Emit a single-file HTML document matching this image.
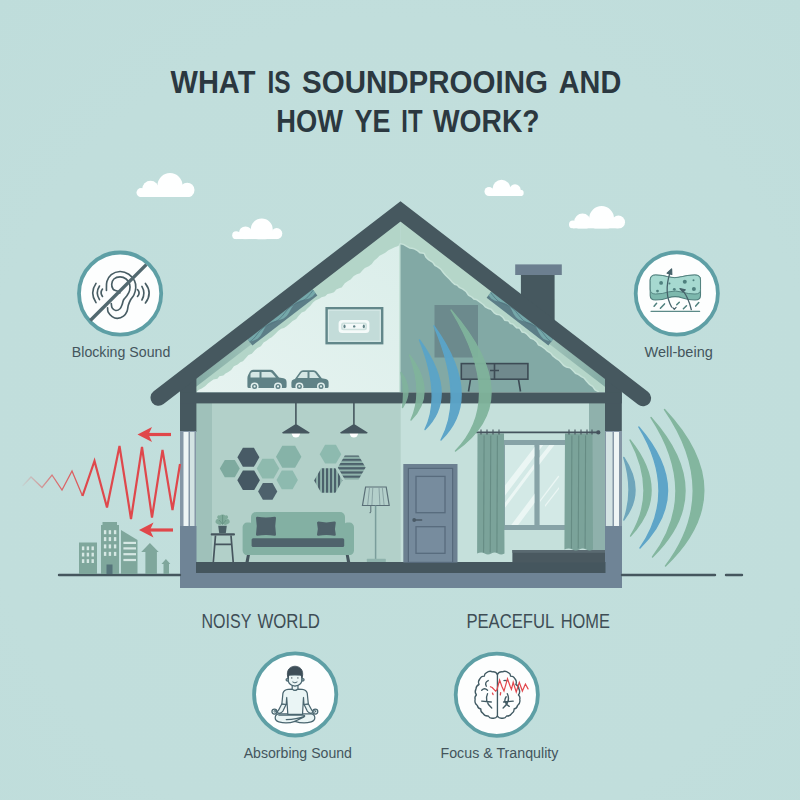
<!DOCTYPE html>
<html lang="en"><head><meta charset="utf-8"><title>What is soundproofing and how does it work?</title>
<style>
html,body{margin:0;padding:0;background:#c0dedb;}
body{width:800px;height:800px;overflow:hidden;font-family:"Liberation Sans",sans-serif;}
svg{display:block}
text{font-family:"Liberation Sans",sans-serif}
</style></head><body>
<svg width="800" height="800" viewBox="0 0 800 800">
<defs>
<radialGradient id="bg" cx="50%" cy="55%" r="75%">
<stop offset="0" stop-color="#c2dfdc"/><stop offset="0.7" stop-color="#c1dedc"/><stop offset="1" stop-color="#bfdddb"/>
</radialGradient>
<linearGradient id="atticL" x1="0" y1="1" x2="1" y2="0">
<stop offset="0" stop-color="#e6f3f0"/><stop offset="1" stop-color="#dbeeea"/>
</linearGradient>
<linearGradient id="zigfade" x1="22" y1="0" x2="100" y2="0" gradientUnits="userSpaceOnUse">
<stop offset="0" stop-color="#e0474a" stop-opacity="0.05"/><stop offset="0.45" stop-color="#e0474a" stop-opacity="0.75"/><stop offset="1" stop-color="#e0474a"/>
</linearGradient>
<clipPath id="houseclip"><path d="M180,588 L180,392 L400.5,221.5 L622,392 L622,588Z"/></clipPath>
</defs>
<rect width="800" height="800" fill="url(#bg)"/>

<g fill="#2b3840" font-weight="700">
<text y="92.60" font-size="31.59" xml:space="preserve"><tspan x="170.50" textLength="84.90" lengthAdjust="spacingAndGlyphs">WHAT</tspan> <tspan x="267.40" textLength="23.10" lengthAdjust="spacingAndGlyphs">IS</tspan> <tspan x="302.00" textLength="245.97" lengthAdjust="spacingAndGlyphs">SOUNDPROOING</tspan> <tspan x="558.75" textLength="62.55" lengthAdjust="spacingAndGlyphs">AND</tspan></text>
<text y="131.60" font-size="31.59" xml:space="preserve"><tspan x="276.25" textLength="66.72" lengthAdjust="spacingAndGlyphs">HOW</tspan> <tspan x="354.50" textLength="35.97" lengthAdjust="spacingAndGlyphs">YE</tspan> <tspan x="401.25" textLength="21.22" lengthAdjust="spacingAndGlyphs">IT</tspan> <tspan x="433.00" textLength="106.55" lengthAdjust="spacingAndGlyphs">WORK?</tspan></text>
</g>
<clipPath id="cl141"><rect x="121" y="155.5" width="86.19999999999999" height="41.599999999999994"/></clipPath><g fill="#feffff" clip-path="url(#cl141)"><circle cx="141" cy="192.6" r="4.5"/><circle cx="150.5" cy="189" r="8.3"/><circle cx="170" cy="185.5" r="12.5"/><circle cx="187.2" cy="190" r="7.3"/><rect x="141" y="189" width="46.19999999999999" height="8.099999999999994"/></g>
<clipPath id="cl236"><rect x="216.2" y="199.5" width="80.5" height="39.69999999999999"/></clipPath><g fill="#feffff" clip-path="url(#cl236)"><circle cx="236.2" cy="235.2" r="4"/><circle cx="245.5" cy="233" r="6.6"/><circle cx="261.75" cy="229.5" r="11"/><circle cx="276.7" cy="233.6" r="5.6"/><rect x="236.2" y="233" width="40.5" height="6.199999999999989"/></g>
<clipPath id="cl489"><rect x="469" y="158.8" width="71.5" height="37.19999999999999"/></clipPath><g fill="#feffff" clip-path="url(#cl489)"><circle cx="489" cy="191.5" r="4.5"/><circle cx="501.5" cy="188.8" r="9"/><circle cx="515" cy="190" r="5.7"/><circle cx="520.5" cy="193" r="3.2"/><rect x="489" y="190" width="31.5" height="6"/></g>
<clipPath id="cl573"><rect x="553" y="188.5" width="85.39999999999998" height="40.099999999999994"/></clipPath><g fill="#feffff" clip-path="url(#cl573)"><circle cx="573" cy="224.6" r="4"/><circle cx="582.5" cy="221.8" r="8.3"/><circle cx="601.6" cy="218.5" r="12.4"/><circle cx="618.4" cy="222.2" r="6.6"/><rect x="573" y="221.8" width="45.39999999999998" height="6.799999999999983"/></g>
<g id="house">
<path d="M180.200,392 L400.5,220 L400.5,392Z" fill="#b3d5c8"/>
<path d="M400.5,220 L621.600,392 L400.5,392Z" fill="#b5d6c9"/>
<path d="M196.5,392.0 L198.9,389.7 L201.7,388.4 L205.1,386.2 L208.2,383.2 L211.0,381.3 L213.4,379.6 L217.4,378.7 L219.4,376.3 L223.4,375.6 L225.5,373.5 L227.9,372.3 L231.2,370.0 L233.9,366.3 L237.7,364.6 L240.3,362.3 L242.9,361.2 L245.4,358.5 L248.5,354.9 L251.8,353.7 L254.9,350.3 L257.4,348.1 L260.9,346.2 L263.6,342.5 L267.0,340.5 L269.1,338.8 L271.7,337.2 L275.5,333.8 L278.1,331.1 L281.2,328.7 L284.0,328.1 L286.6,326.2 L289.9,323.6 L292.6,320.9 L296.2,319.0 L298.7,315.8 L301.7,312.4 L305.0,311.2 L306.9,309.1 L310.4,305.7 L313.0,302.5 L315.4,300.6 L319.3,298.7 L321.5,297.3 L325.2,296.2 L327.6,293.9 L331.1,293.3 L334.0,292.3 L336.3,289.5 L339.8,288.0 L341.7,287.4 L344.8,283.3 L348.0,281.1 L350.6,279.5 L353.8,275.9 L356.9,274.3 L360.0,273.2 L362.8,269.9 L364.9,268.0 L368.8,266.3 L371.8,264.1 L374.1,260.8 L377.4,258.0 L379.5,255.7 L382.5,254.2 L385.3,252.7 L388.4,250.3 L391.6,248.8 L395.2,246.9 L397.1,246.5 L400.5,244.5 L400.5,392 L196.5,392Z" fill="url(#atticL)"/>
<path d="M400.5,244.5 L403.1,245.1 L405.6,246.5 L409.6,248.8 L411.7,249.1 L414.0,249.5 L417.1,251.2 L419.7,253.4 L423.6,253.9 L425.3,257.6 L428.0,260.2 L432.1,262.7 L434.5,266.0 L436.9,267.3 L440.3,269.8 L443.1,273.4 L445.1,275.8 L449.0,279.6 L451.6,282.5 L454.3,284.9 L456.8,285.7 L458.9,288.1 L462.1,289.5 L465.5,292.1 L468.0,295.7 L471.5,297.8 L473.5,299.8 L476.1,300.2 L478.9,302.2 L482.7,305.1 L484.9,307.6 L488.2,309.2 L490.8,309.9 L493.8,313.5 L496.2,315.0 L499.4,315.6 L502.2,317.7 L504.5,321.0 L508.1,321.5 L509.8,324.1 L512.6,324.8 L516.3,328.5 L519.2,328.8 L521.7,332.7 L524.4,333.3 L526.5,334.8 L530.2,338.7 L533.4,340.1 L536.1,342.3 L538.0,345.6 L540.9,346.7 L544.1,349.1 L546.7,351.6 L550.2,353.7 L552.4,356.5 L555.9,359.2 L558.7,361.1 L561.0,363.5 L563.1,365.9 L566.1,367.7 L569.8,368.6 L572.1,370.8 L575.1,373.9 L577.8,374.9 L581.0,377.3 L583.5,378.5 L585.9,381.4 L589.1,385.1 L592.2,387.1 L594.6,390.5 L597.5,392.0 L597.5,392 L400.5,392Z" fill="#c6e2d8" stroke="#c6e2d8" stroke-width="3" stroke-linejoin="round"/>
<path d="M400.5,244.5 L403.1,245.1 L405.6,246.5 L409.6,248.8 L411.7,249.1 L414.0,249.5 L417.1,251.2 L419.7,253.4 L423.6,253.9 L425.3,257.6 L428.0,260.2 L432.1,262.7 L434.5,266.0 L436.9,267.3 L440.3,269.8 L443.1,273.4 L445.1,275.8 L449.0,279.6 L451.6,282.5 L454.3,284.9 L456.8,285.7 L458.9,288.1 L462.1,289.5 L465.5,292.1 L468.0,295.7 L471.5,297.8 L473.5,299.8 L476.1,300.2 L478.9,302.2 L482.7,305.1 L484.9,307.6 L488.2,309.2 L490.8,309.9 L493.8,313.5 L496.2,315.0 L499.4,315.6 L502.2,317.7 L504.5,321.0 L508.1,321.5 L509.8,324.1 L512.6,324.8 L516.3,328.5 L519.2,328.8 L521.7,332.7 L524.4,333.3 L526.5,334.8 L530.2,338.7 L533.4,340.1 L536.1,342.3 L538.0,345.6 L540.9,346.7 L544.1,349.1 L546.7,351.6 L550.2,353.7 L552.4,356.5 L555.9,359.2 L558.7,361.1 L561.0,363.5 L563.1,365.9 L566.1,367.7 L569.8,368.6 L572.1,370.8 L575.1,373.9 L577.8,374.9 L581.0,377.3 L583.5,378.5 L585.9,381.4 L589.1,385.1 L592.2,387.1 L594.6,390.5 L597.5,392.0 L597.5,392 L400.5,392Z" fill="#82a9a5"/>
<defs><linearGradient id="evL" gradientUnits="userSpaceOnUse" x1="200" y1="0" x2="300" y2="0"><stop offset="0" stop-color="#86ada6" stop-opacity="1"/><stop offset="1" stop-color="#86ada6" stop-opacity="0"/></linearGradient><linearGradient id="evR" gradientUnits="userSpaceOnUse" x1="601" y1="0" x2="501" y2="0"><stop offset="0" stop-color="#86ada6" stop-opacity="1"/><stop offset="1" stop-color="#86ada6" stop-opacity="0"/></linearGradient></defs>
<polygon points="180.5,390.8 300.5,298.4 300.5,306.4 180.5,398.8" fill="url(#evL)"/>
<polygon points="620.5,390.8 500.5,298.4 500.5,306.4 620.5,398.8" fill="url(#evR)"/>
<polygon points="312.5,289.2 247.6,339.2 252.4,345.5 317.4,295.5" fill="#5c7e87"/><polygon points="312.5,289.2 247.6,339.2 249.5,341.7 253.8,340.6 257.6,338.8 260.5,335.8 262.7,332.0 264.8,328.0 267.4,324.7 270.9,322.4 275.0,321.1 279.4,320.1 283.5,318.6 286.7,316.1 289.1,312.6 291.2,308.5 293.6,304.9 296.7,302.2 300.6,300.6 305.0,299.6 309.2,298.4 312.8,296.2 315.5,293.0" fill="#79afb0" opacity="0.85"/><polyline points="249.6,341.9 252.9,339.4 255.7,336.3 258.2,332.9 261.0,329.7 264.1,327.1 267.8,325.1 271.7,323.5 275.5,321.7 278.9,319.4 281.9,316.5 284.5,313.2 287.1,309.9 290.1,307.1 293.5,304.8 297.4,303.1 301.3,301.5 304.9,299.4 308.0,296.8 310.7,293.5 313.3,290.2" fill="none" stroke="#4f7580" stroke-width="0.900" opacity="0.8"/>
<polygon points="491.5,291.5 553.3,339.1 548.4,345.4 486.6,297.8" fill="#5c7e87"/><polygon points="491.5,291.5 553.3,339.1 551.3,341.6 547.2,340.6 543.6,338.9 540.8,336.0 538.7,332.4 536.8,328.5 534.3,325.3 531.1,323.2 527.1,322.0 522.8,321.1 518.9,319.7 515.9,317.3 513.6,313.9 511.7,310.0 509.5,306.5 506.5,303.9 502.8,302.4 498.5,301.5 494.5,300.4 491.1,298.4 488.5,295.3" fill="#79afb0" opacity="0.85"/><polyline points="551.2,341.7 548.1,339.4 545.5,336.4 543.1,333.1 540.5,330.1 537.5,327.6 534.0,325.7 530.3,324.2 526.6,322.5 523.3,320.4 520.6,317.6 518.1,314.4 515.6,311.3 512.8,308.5 509.5,306.4 505.8,304.8 502.1,303.3 498.6,301.4 495.7,298.8 493.1,295.7 490.7,292.5" fill="none" stroke="#4f7580" stroke-width="0.900" opacity="0.8"/>
<rect x="326.6" y="308.2" width="55.6" height="35" fill="#c3dcd9" stroke="#62878a" stroke-width="2.400"/>
<rect x="328.6" y="310.2" width="51.6" height="31" fill="none" stroke="#d9eae8" stroke-width="1"/>
<rect x="338.6" y="320" width="30.8" height="13" rx="3.500" fill="#f4faf9"/>
<rect x="341" y="322.500" width="26" height="7.800" rx="2.500" fill="#cfe2df"/>
<rect x="342.500" y="324" width="23" height="4.800" rx="2.400" fill="#f4faf9"/>
<ellipse cx="344.500" cy="326.400" rx="1.100" ry="1.800" fill="#5f8286"/><ellipse cx="363.800" cy="326.400" rx="1.100" ry="1.800" fill="#5f8286"/><circle cx="354.200" cy="326.400" r="1.200" fill="#5f8286"/>
<path d="M247.400,386.500 V378 q0,-2 1,-3.500 l1.600,-3 q1,-1.700 3,-1.700 h17.500 q2,0 3.200,1.400 l5.300,6.300 l4.500,0.800 q3.100,0.700 3.100,4 v4.200 q0,1.500 -1.500,1.500 h-36.200 q-1.500,0 -1.500,-1.500Z" fill="#5f8286"/>
<path d="M250.500,377.500 v-3 q0,-2.500 2.500,-2.500 h6.500 v5.500Z M261.500,372 h8.500 q1.200,0 2,0.900 l3.900,4.600 h-14.400Z" fill="#d5e7e5"/>
<circle cx="254.6" cy="386.4" r="4" fill="#e3f0ee"/><circle cx="254.6" cy="386.4" r="2.500" fill="#5f8286"/><circle cx="254.6" cy="386.4" r="1.100" fill="#e3f0ee"/><circle cx="278" cy="386.4" r="4" fill="#e3f0ee"/><circle cx="278" cy="386.4" r="2.500" fill="#5f8286"/><circle cx="278" cy="386.4" r="1.100" fill="#e3f0ee"/>
<path d="M291.400,386.500 v-4 q0,-2.500 2,-3 l1.500,-0.500 l5,-7 q1.200,-1.700 3.200,-1.700 h10.500 q2,0 3.200,1.500 l5,6.500 l4,0.800 q2.800,0.600 2.800,3.500 v4 q0,1.500 -1.500,1.500 h-34.200 q-1.500,0 -1.500,-1.600Z" fill="#5f8286"/>
<path d="M297.500,378 l3.800,-5.200 q0.600,-0.800 1.600,-0.800 h4.600 v6Z M309.500,372 h4 q1,0 1.600,0.800 l4,5.200 h-9.600Z" fill="#d5e7e5"/>
<circle cx="299.4" cy="386.4" r="4" fill="#e3f0ee"/><circle cx="299.4" cy="386.4" r="2.500" fill="#5f8286"/><circle cx="299.4" cy="386.4" r="1.100" fill="#e3f0ee"/><circle cx="321" cy="386.4" r="4" fill="#e3f0ee"/><circle cx="321" cy="386.4" r="2.500" fill="#5f8286"/><circle cx="321" cy="386.4" r="1.100" fill="#e3f0ee"/>
<rect x="434.5" y="305" width="43.5" height="52.5" fill="#6c8a8d"/>
<rect x="461.300" y="363.600" width="66.600" height="15.600" fill="#70898d" stroke="#3d4b55" stroke-width="1.600"/>
<path d="M494.500,363.600 v15.600 M490,370.500 h9 M470.500,379.500 l-2,12 M518.500,379.500 l2,12" stroke="#3d4b55" stroke-width="1.600" fill="none"/>
<rect x="196" y="402" width="205" height="161" fill="#b2d0c9"/>
<rect x="196" y="402" width="16" height="161" fill="#9fc1ba"/>
<rect x="400.700" y="402" width="205" height="161" fill="#c5e0db"/>
<rect x="589" y="402" width="16" height="161" fill="#8fb1ac"/>
<rect x="180" y="378" width="16.400" height="53.800" fill="#46585f"/>
<rect x="180" y="431" width="16" height="96" fill="#8597a6"/>
<rect x="183.5" y="432" width="5" height="94" fill="#eef5f5"/><rect x="190" y="432" width="4.5" height="94" fill="#d3e3e3"/>
<rect x="180" y="526" width="16.5" height="62" fill="#6f8496"/>
<rect x="605" y="378" width="16.800" height="53.800" fill="#46585f"/>
<rect x="605" y="431" width="17" height="96" fill="#8597a6"/>
<rect x="606" y="432" width="6.5" height="94" fill="#d3e3e3"/><rect x="614" y="432" width="5" height="94" fill="#eef5f5"/>
<rect x="605" y="526" width="17" height="62" fill="#6f8496"/>
<rect x="180" y="572" width="442" height="16" fill="#6f8496"/>
<rect x="196" y="562" width="409.5" height="11" fill="#45565e"/>
<rect x="180" y="392.400" width="441.800" height="11" fill="#46585f"/>
<circle cx="295.9" cy="433.300" r="4.200" fill="#ffffff"/>
<path d="M295.9,402 V426" stroke="#45565e" stroke-width="1.600"/>
<path d="M282.09999999999997,432.600 L294.9,424.500 h2 L309.7,432.600 q-0.300,0.900 -1.200,0.900 h-25.200 q-1,0 -1.200,-0.900Z" fill="#45565f"/>
<circle cx="353.9" cy="433.300" r="4.200" fill="#ffffff"/>
<path d="M353.9,402 V426" stroke="#45565e" stroke-width="1.600"/>
<path d="M340.09999999999997,432.600 L352.9,424.500 h2 L367.7,432.600 q-0.300,0.900 -1.200,0.900 h-25.200 q-1,0 -1.200,-0.900Z" fill="#45565f"/>
<polygon points="259.4,457.3 253.9,466.8 242.9,466.8 237.4,457.3 242.9,447.8 253.9,447.8" fill="#485b66"/>
<polygon points="239.8,468.6 234.8,477.3 224.8,477.3 219.8,468.6 224.8,459.9 234.8,459.9" fill="#7eaa9f"/>
<polygon points="259.9,480.2 254.2,490.0 242.9,490.0 237.3,480.2 242.9,470.4 254.2,470.4" fill="#455863"/>
<polygon points="279.3,468.6 273.6,478.4 262.4,478.4 256.7,468.6 262.4,458.8 273.6,458.8" fill="#8ebaae"/>
<polygon points="301.4,456.7 295.1,467.7 282.3,467.7 276.0,456.7 282.3,445.7 295.1,445.7" fill="#86b3a8"/>
<polygon points="297.9,479.9 292.6,489.2 281.8,489.2 276.5,479.9 281.8,470.6 292.6,470.6" fill="#8dbaaf"/>
<polygon points="277.3,491.4 272.5,499.7 262.9,499.7 258.1,491.4 262.9,483.1 272.5,483.1" fill="#4d616c"/>
<polygon points="341.3,454.2 335.9,463.6 325.1,463.6 319.7,454.2 325.1,444.8 335.9,444.8" fill="#8dbaaf"/>
<defs><pattern id="hs" width="4.2" height="4.2" y="1" patternUnits="userSpaceOnUse"><rect width="4.2" height="4.2" fill="#8fb3ab"/><rect width="4.2" height="2.2" fill="#4c616b"/></pattern><pattern id="vs" width="4" height="4" x="2" patternUnits="userSpaceOnUse"><rect width="4" height="4" fill="#8fb3ab"/><rect width="2.1" height="4" fill="#4c616b"/></pattern></defs>
<polygon points="365.6,467.4 358.6,479.4 344.8,479.4 337.8,467.4 344.8,455.4 358.6,455.4" fill="url(#hs)"/>
<polygon points="342.5,480.5 335.4,492.8 321.2,492.8 314.1,480.5 321.2,468.2 335.4,468.2" fill="url(#vs)"/>
<rect x="210.700" y="533.200" width="24.300" height="2.400" rx="1" fill="#46555e"/>
<path d="M215.500,535.500 L213.300,562 M231,535.500 L233.200,562 M214.800,544.400 H231.800" stroke="#46555e" stroke-width="1.700" fill="none"/>
<path d="M218.200,525.800 h8.600 l-1,7.500 h-6.600Z" fill="#4a5f66"/>
<g fill="#7fab9b"><ellipse cx="219" cy="522" rx="3.600" ry="2.600" transform="rotate(25 219 522)"/><ellipse cx="226.200" cy="522" rx="3.600" ry="2.600" transform="rotate(-25 226.2 522)"/><ellipse cx="222.600" cy="518.500" rx="3.400" ry="4" /><ellipse cx="219.500" cy="517.500" rx="2.400" ry="2" transform="rotate(30 219.5 517.5)"/><ellipse cx="225.800" cy="517.500" rx="2.400" ry="2" transform="rotate(-30 225.8 517.5)"/></g>
<path d="M222.600,515 v10 M219,520 l3.500,4 M226.200,520 l-3.500,4" stroke="#5e8c7d" stroke-width="0.700" fill="none"/>
<path d="M245.5,562 l1.6,-8 h3 l-1.4,8Z M350.2,562 l-1.6,-8 h-3 l1.4,8Z" fill="#45565e"/>
<rect x="251" y="512" width="94" height="34" rx="5" fill="#83b0a3"/>
<rect x="242.6" y="522.6" width="11" height="32.4" rx="4.5" fill="#83b0a3"/><rect x="343" y="522.600" width="11" height="32.400" rx="4.5" fill="#83b0a3"/>
<rect x="244" y="545" width="108" height="10" rx="3" fill="#83b0a3"/>
<rect x="251.600" y="538.200" width="92.600" height="8.800" rx="1.500" fill="#4f636c"/>
<path d="M257.2,518 Q266.0,519.6 274.8,518 Q273.2,526.3 274.8,534.6 Q266.0,533.0 257.2,534.6 Q258.8,526.3 257.2,518Z" fill="#4e616a" stroke="#4e616a" stroke-width="2.4" stroke-linejoin="round"/>
<path d="M318.2,522.8 Q326.4,524.4 334.6,522.8 Q333.0,528.7 334.6,534.6 Q326.4,533.0 318.2,534.6 Q319.8,528.7 318.2,522.8Z" fill="#4e616a" stroke="#4e616a" stroke-width="2.4" stroke-linejoin="round"/>
<path d="M365.600,487 h20.600 l3,18.500 h-26.700Z" fill="#b3cfca" stroke="#5a6f77" stroke-width="1.200"/>
<path d="M369.500,487.500 l-1.800,17.500 M372.800,487.500 l-0.900,17.500 M379,487.500 l0.900,17.500 M382.300,487.500 l1.800,17.500" stroke="#7d989b" stroke-width="0.800"/>
<path d="M375.600,505.500 V559.500" stroke="#7a9d9b" stroke-width="1.500"/><path d="M370.800,506 v6 q-0.200,1.300 -1.300,0.700" stroke="#5a6f77" stroke-width="1" fill="none"/>
<rect x="366.800" y="558.800" width="19" height="3.200" rx="0.600" fill="#8fb3ad"/>
<rect x="403.300" y="464" width="54.200" height="98.500" fill="#6c8091"/>
<rect x="408.400" y="468.400" width="44.200" height="94" fill="#758a9c" stroke="#56697b" stroke-width="1.200"/>
<rect x="416" y="476.400" width="29" height="36.300" fill="#778c9e" stroke="#586b7d" stroke-width="1.300"/>
<rect x="416" y="526.700" width="29" height="26.600" fill="#778c9e" stroke="#586b7d" stroke-width="1.300"/>
<circle cx="414.200" cy="520" r="1.900" fill="#4a5a66"/><path d="M414.200,520 h7.500" stroke="#4a5a66" stroke-width="1.300" stroke-linecap="round"/>
<rect x="503" y="440" width="62" height="90" fill="#87a3a7"/>
<rect x="505" y="445" width="29.400" height="80" fill="#d3e9e6"/><rect x="539.600" y="445" width="25.400" height="80" fill="#d3e9e6"/>
<defs><clipPath id="wclip"><rect x="505" y="445" width="29.400" height="80"/><rect x="539.600" y="445" width="25.400" height="80"/></clipPath></defs>
<g clip-path="url(#wclip)" fill="#ebf6f4"><path d="M500,492 l40,-52 h7 l-47,62Z M504,504 l30,-40 v5 l-30,40Z M506,532 l30,-40 v9 l-26,35Z M539,458 l12,-15 h5 l-17,22Z M540,500 l18,-24 q1.500,-1 1,1 l-19,25Z M545,505 l14,-18 v2 l-14,18Z"/></g>
<rect x="512.400" y="550" width="92.600" height="12.500" fill="#4a5960"/>
<rect x="512.400" y="550" width="92.600" height="2.800" fill="#5a6a71"/>
<path d="M477.5,433.5 H504 L504.5,553.6 q-3.3,2 -6.6,0 q-3.3,-2 -6.6,0 q-3.3,2 -6.6,0 q-3.3,-2 -7.6,0Z" fill="#7ba39a"/><path d="M484.1,435.5 L483.6,552.6" stroke="#668c84" stroke-width="1.100"/><path d="M490.8,435.5 L490.2,552.6" stroke="#668c84" stroke-width="1.100"/><path d="M497.4,435.5 L496.9,552.6" stroke="#668c84" stroke-width="1.100"/>
<path d="M565,433.5 H592.5 L593.0,549.6 q-3.4,2 -6.9,0 q-3.4,-2 -6.9,0 q-3.4,2 -6.9,0 q-3.4,-2 -7.9,0Z" fill="#7ba39a"/><path d="M571.9,435.5 L571.4,548.6" stroke="#668c84" stroke-width="1.100"/><path d="M578.8,435.5 L578.2,548.6" stroke="#668c84" stroke-width="1.100"/><path d="M585.6,435.5 L585.1,548.6" stroke="#668c84" stroke-width="1.100"/>
<path d="M477,432.400 H599" stroke="#45535d" stroke-width="1.800" stroke-linecap="round"/>
<circle cx="598.300" cy="432.400" r="2.100" fill="#45535d"/>
<path d="M481,429.500 v5 M487,429.500 v5 M493,429.500 v5 M499,429.500 v5 M569,429.500 v5 M575,429.500 v5 M581,429.500 v5 M587,429.500 v5 M592,429.500 v5" stroke="#45535d" stroke-width="1.100"/>
<path d="M401.0,372.5 Q414.2,390.0 402.5,407.5 Q405.2,390.0 401.0,372.5Z" fill="#80b49c" stroke="#80b49c" stroke-width="1.400" stroke-linejoin="round" opacity="0.85"/>
<path d="M409.5,355.0 Q437.8,392.5 411.0,420.0 Q423.8,392.5 409.5,355.0Z" fill="#80b49c" stroke="#80b49c" stroke-width="1.400" stroke-linejoin="round" opacity="0.92"/>
<path d="M419.5,340.0 Q459.8,395.2 425.0,429.5 Q441.8,395.2 419.5,340.0Z" fill="#5ba4c8" stroke="#5ba4c8" stroke-width="1.400" stroke-linejoin="round" opacity="0.97"/>
<path d="M434.0,326.0 Q484.5,397.0 441.0,440.0 Q464.5,397.0 434.0,326.0Z" fill="#5ba4c8" stroke="#5ba4c8" stroke-width="1.400" stroke-linejoin="round" opacity="0.97"/>
<path d="M451.0,310.0 Q528.8,399.5 455.5,451.0 Q505.8,399.5 451.0,310.0Z" fill="#80b49c" stroke="#80b49c" stroke-width="1.400" stroke-linejoin="round" opacity="0.95"/>
<path d="M520.900,274 H554.600 V326 L520.900,299Z" fill="#46585f"/>
<rect x="515.200" y="264.400" width="46.600" height="10.600" fill="#6c7f90"/>
<path d="M158.600,397.700 L400.5,211.400 L643,398.200" fill="none" stroke="#46585f" stroke-width="16.200" stroke-linecap="round" stroke-linejoin="miter"/>
</g>
<path d="M623.8,457.5 Q646.2,491.2 623.8,520.0 Q634.2,491.2 623.8,457.5Z" fill="#6aa3ba" stroke="#6aa3ba" stroke-width="1.400" stroke-linejoin="round" opacity="0.95"/>
<path d="M630.0,440.0 Q671.8,492.0 630.5,536.0 Q657.8,492.0 630.0,440.0Z" fill="#80b49c" stroke="#80b49c" stroke-width="1.400" stroke-linejoin="round" opacity="0.95"/>
<path d="M638.8,427.0 Q695.6,492.5 640.0,548.0 Q678.6,492.5 638.8,427.0Z" fill="#5ba4c8" stroke="#5ba4c8" stroke-width="1.400" stroke-linejoin="round" opacity="0.97"/>
<path d="M651.0,417.5 Q718.2,492.8 652.5,557.0 Q700.2,492.8 651.0,417.5Z" fill="#80b49c" stroke="#80b49c" stroke-width="1.400" stroke-linejoin="round" opacity="0.95"/>
<path d="M664.5,409.5 Q742.5,492.2 665.5,566.0 Q721.5,492.2 664.5,409.5Z" fill="#80b49c" stroke="#80b49c" stroke-width="1.400" stroke-linejoin="round" opacity="0.95"/>
<path d="M59,575 H180 M622,575 H715 M726,575 H742" stroke="#45565e" stroke-width="2.400" stroke-linecap="round"/>
<g fill="#7fa79c">
<rect x="79" y="542.500" width="18" height="31.500"/>
<rect x="101" y="525" width="18" height="49"/><rect x="102.500" y="522" width="14.500" height="4"/>
<path d="M121,530 L137.500,540 V574 H121Z"/>
<path d="M141.200,552 L149.900,542.900 L158.700,552 H156.900 V574 H145.400 V552Z"/>
<path d="M161.500,564 L165.900,559 L170.300,564 H169 V574 H163.500 V564Z"/>
</g>
<g fill="#d6e8e4"><rect x="81.9" y="546.4" width="2.400" height="3.800"/><rect x="86.7" y="546.4" width="2.400" height="3.800"/><rect x="91.5" y="546.4" width="2.400" height="3.800"/><rect x="81.9" y="552.7" width="2.400" height="3.800"/><rect x="86.7" y="552.7" width="2.400" height="3.800"/><rect x="91.5" y="552.7" width="2.400" height="3.800"/><rect x="81.9" y="559.2" width="2.400" height="3.800"/><rect x="86.7" y="559.2" width="2.400" height="3.800"/><rect x="91.5" y="559.2" width="2.400" height="3.800"/><rect x="103.9" y="530.2" width="2.400" height="4"/><rect x="108.7" y="530.2" width="2.400" height="4"/><rect x="113.9" y="530.2" width="2.400" height="4"/><rect x="103.9" y="537.1" width="2.400" height="4"/><rect x="108.7" y="537.1" width="2.400" height="4"/><rect x="113.9" y="537.1" width="2.400" height="4"/><rect x="103.9" y="544.4" width="2.400" height="4"/><rect x="108.7" y="544.4" width="2.400" height="4"/><rect x="113.9" y="544.4" width="2.400" height="4"/><rect x="103.9" y="551.9" width="2.400" height="4"/><rect x="108.7" y="551.9" width="2.400" height="4"/><rect x="113.9" y="551.9" width="2.400" height="4"/><rect x="123.400" y="541.8" width="12.600" height="2.200"/><rect x="123.400" y="547.3" width="12.600" height="2.200"/><rect x="123.400" y="553.1" width="12.600" height="2.200"/><rect x="123.400" y="558.9" width="12.600" height="2.200"/></g>
<rect x="106.500" y="564.500" width="6" height="9.500" fill="#55737a"/>
<polyline points="22.5,486 31,477 42,487.5 52,475 62,490 72,471 82.5,496" fill="none" stroke="url(#zigfade)" stroke-width="1.300" stroke-linejoin="miter"/>
<polyline points="82.5,496 94.5,461 107,507.5 119.5,446 131,519 142,447 152,517.5 162.5,450 172.5,510 180,464" fill="none" stroke="#df484c" stroke-width="2.200" stroke-linejoin="miter"/>
<path d="M146.5,434.5 H171" stroke="#e0474a" stroke-width="3.200"/><path d="M137.5,434.5 L152.0,427.0 L148.5,434.5 L152.0,442.0Z" fill="#e0474a"/>
<path d="M148,530 H173" stroke="#e0474a" stroke-width="3.200"/><path d="M139,530 L153.5,522.5 L150,530 L153.5,537.5Z" fill="#e0474a"/>
<g fill="#3e4d55">
<text y="627.60" font-size="19.57" xml:space="preserve"><tspan x="201.50" textLength="49.53" lengthAdjust="spacingAndGlyphs">NOISY</tspan> <tspan x="257.40" textLength="62.44" lengthAdjust="spacingAndGlyphs">WORLD</tspan></text>
<text y="627.60" font-size="19.57" xml:space="preserve"><tspan x="466.40" textLength="87.19" lengthAdjust="spacingAndGlyphs">PEACEFUL</tspan> <tspan x="560.70" textLength="49.30" lengthAdjust="spacingAndGlyphs">HOME</tspan></text>
</g>
<g fill="#44555c">
<text transform="translate(71.80,356.50) scale(0.9789,1)" font-size="14.49">Blocking Sound</text>
<text transform="translate(644.50,356.50) scale(1.0016,1)" font-size="14.49">Well-being</text>
<text transform="translate(243.70,758.00) scale(0.9736,1)" font-size="14.49">Absorbing Sound</text>
<text transform="translate(440.50,757.60) scale(0.9833,1)" font-size="14.49">Focus &amp; Tranqulity</text>
</g>
<circle cx="120.1" cy="293.6" r="41.100" fill="#fdfefe" stroke="#5e9fa5" stroke-width="3.800"/>
<circle cx="676.8" cy="293.5" r="41.100" fill="#fdfefe" stroke="#5e9fa5" stroke-width="3.800"/>
<circle cx="295.2" cy="694.4" r="41.100" fill="#fdfefe" stroke="#5e9fa5" stroke-width="3.800"/>
<circle cx="496.8" cy="694.7" r="41.100" fill="#fdfefe" stroke="#5e9fa5" stroke-width="3.800"/>
<g transform="translate(120.100,293.600)" fill="none" stroke="#485d64" stroke-width="1.650" stroke-linecap="round" stroke-linejoin="round">
<path d="M-12.51,14.26 C-12.41,14.99 -12.66,17.18 -11.90,18.64 C-11.14,20.09 -9.49,21.99 -7.96,23.01 C-6.43,24.03 -4.61,24.83 -2.71,24.76 C-0.82,24.69 1.81,23.74 3.41,22.57 C5.02,21.41 6.11,19.58 6.91,17.76 C7.71,15.94 7.64,13.53 8.22,11.64 C8.81,9.74 9.46,8.14 10.41,6.39 C11.36,4.64 13.04,3.18 13.91,1.14 C14.79,-0.90 15.59,-3.53 15.66,-5.86 C15.73,-8.19 15.51,-10.60 14.35,-12.86 C13.18,-15.12 11.07,-17.89 8.66,-19.42 C6.26,-20.95 2.83,-22.12 -0.09,-22.05 C-3.00,-21.97 -6.65,-20.66 -8.84,-18.99 C-11.02,-17.31 -12.41,-14.61 -13.21,-11.99 C-14.01,-9.36 -13.58,-4.70 -13.65,-3.24"/>
<path d="M-8.84,9.89 C-8.69,10.62 -8.69,13.09 -7.96,14.26 C-7.23,15.43 -5.77,16.74 -4.46,16.89 C-3.15,17.03 -1.18,16.16 -0.09,15.14 C1.01,14.11 1.52,12.22 2.10,10.76 C2.68,9.30 2.61,7.84 3.41,6.39 C4.21,4.93 5.89,3.62 6.91,2.01 C7.93,0.41 9.10,-1.34 9.54,-3.24 C9.97,-5.13 10.12,-7.47 9.54,-9.36 C8.95,-11.26 7.64,-13.37 6.04,-14.61 C4.43,-15.85 1.95,-16.80 -0.09,-16.80 C-2.13,-16.80 -4.83,-15.85 -6.21,-14.61 C-7.60,-13.37 -8.25,-11.04 -8.40,-9.36 C-8.54,-7.68 -7.74,-5.60 -7.09,-4.55 C-6.43,-3.50 -5.41,-3.46 -4.46,-3.06 C-3.51,-2.67 -2.10,-2.60 -1.40,-2.19 C-0.70,-1.78 -0.45,-0.87 -0.26,-0.61"/>
<path d="M-17.600,-4.500 Q-20.400,-0.800 -17.600,2.900 M-20.600,-7.600 Q-25,-0.800 -20.600,6 M-24.100,-10.200 Q-30.700,-0.600 -24.100,9"/>
<path d="M17.400,-4.100 Q20.600,-0.600 17.400,2.900 M21.800,-7.200 Q25.800,-0.400 21.800,6.400 M25.300,-10.200 Q32.800,-0.400 25.300,9.400"/>
</g>
<path d="M90.300,320.500 L146.300,264.600" stroke="#526970" stroke-width="3.400"/>
<g transform="translate(676.800,293.500)" stroke-linecap="round" stroke-linejoin="round">
<path d="M-26.600,-13.500 q0,-5 5.500,-5 q7,0 12,1.700 q7,2 14,0 q6,-1.700 13,-1.700 q5.800,0 5.800,5 v15.500 q0,4.500 -5.500,4.500 q-7,0 -12.500,-2 q-7,-2.500 -14,-0.300 q-6,2.300 -13,2.300 q-5.300,0 -5.300,-4.500Z" fill="#7db8ad" stroke="#4f7f7d" stroke-width="1.100"/>
<path d="M-26.600,-13.500 q0,-5 5.500,-5 q7,0 12,1.700 q7,2 14,0 q6,-1.700 13,-1.700 q5.800,0 5.800,5 v9.500 q0,4.500 -5.500,4.500 q-7,0 -12.500,-1.800 q-7,-2.300 -14,-0.300 q-6,2.100 -13,2.100 q-5.300,0 -5.300,-4.500Z" fill="#a6d9d0" stroke="#4f7f7d" stroke-width="0.900"/>
<g fill="#4f807e" stroke="none"><circle cx="-15.700" cy="-10.600" r="1.900"/><circle cx="-7.300" cy="-10.100" r="1"/><circle cx="8" cy="-11.700" r="2"/><circle cx="16.700" cy="-13.200" r="1"/><circle cx="-19.300" cy="-2.400" r="1.400"/><circle cx="-2.500" cy="-4.200" r="1.400"/><circle cx="17.100" cy="-4.500" r="2"/></g>
<path d="M-5.200,13.500 C-9.500,6 -11.500,-6 -6.800,-21" fill="none" stroke="#46626a" stroke-width="1.300"/>
<path d="M-5.200,-24.600 L-9.700,-20.400 L-5,-19Z" fill="#46626a" stroke="#46626a" stroke-width="1.200"/>
<path d="M-4,14.200 l1.500,1.700 l1.800,-2" fill="none" stroke="#46626a" stroke-width="1.200"/>
<path d="M14.500,16.100 C12.500,8 10,2 6.200,-2.600" fill="none" stroke="#46626a" stroke-width="1.300"/>
<path d="M3.100,-4.900 L8.500,-3.700 L6,-1.600Z" fill="#46626a" stroke="#46626a" stroke-width="1.200"/>
<path d="M-22.700,12.800 L-20.200,9.800 M-16.400,14.800 L-12.300,10.400 M-0.100,11.300 L2.500,8.700 M6.600,15.200 L9.700,12.200 M18.900,12.600 L22,9.100" stroke="#4f807e" stroke-width="1.500" fill="none"/>
<path d="M-25.700,17.900 H22.800" stroke="#5c8a88" stroke-width="1.200"/>
</g>

<g transform="translate(295.200,694.400)" stroke="#4a6670" stroke-width="1.250" stroke-linecap="round" stroke-linejoin="round" fill="#eaf5f5">
<path d="M -16.39 19.55 C -20.76 20.16 -21.64 25.84 -16.39 27.42 C -9.83 29.52 -4.58 28.47 -0.20 26.89 C 4.17 28.47 9.42 29.52 15.98 27.42 C 21.23 25.84 20.36 20.16 15.98 19.55 Z"/>
<path fill="none" d="M -16.39 20.68 L 7.67 20.68 Q 10.47 20.86 8.99 22.52 L -0.20 26.89 M -8.95 25.14 Q 1.55 24.97 9.42 21.91"/>
<path d="M -13.32 9.40 L -16.65 15.78 Q -17.70 17.10 -18.57 18.15 L -15.51 19.02 Q -13.32 17.97 -12.27 16.66 L -9.13 10.10 Z"/>
<path d="M 13.10 9.40 L 16.60 15.78 Q 17.65 17.10 18.35 18.15 L 15.37 19.02 Q 13.10 17.97 12.05 16.66 L 8.90 10.10 Z"/>
<circle cx="-20.76" cy="17.10" r="2.500"/><circle cx="-20.15" cy="16.92" r="1" fill="none" stroke-width="0.900"/>
<circle cx="20.10" cy="17.10" r="2.500"/><circle cx="19.48" cy="16.92" r="1" fill="none" stroke-width="0.900"/>
<path d="M -7.38 19.90 L -8.51 3.10 L -8.95 10.10 L -13.32 9.40 L -12.27 -1.10 Q -11.14 -4.60 -7.20 -4.95 L -3.00 -5.30 Q -0.20 -2.85 2.77 -5.30 L 6.97 -4.95 Q 11.00 -4.60 12.05 -1.10 L 13.10 9.40 L 8.72 10.10 L 8.29 3.10 L 7.32 19.90 Z"/>
<path d="M -3.00 -5.30 L -3.00 -9.15 L 2.77 -9.15 L 2.77 -5.30 Q -0.20 -2.85 -3.00 -5.30 Z"/>
<circle cx="-7.90" cy="-14.58" r="1.200"/><circle cx="7.67" cy="-14.58" r="1.200"/>
<path d="M -7.03 -19.65 L -6.85 -13.09 Q -5.89 -9.15 -0.20 -8.28 Q 5.49 -9.15 6.54 -13.09 L 6.71 -19.65 Z"/>
<path fill="#3e4e58" stroke="#3e4e58" stroke-width="0.800" d="M -7.03 -16.33 C -8.95 -20.52 -8.08 -27.96 -0.20 -28.22 C 7.67 -27.96 8.55 -20.52 6.71 -16.33 C 6.62 -17.90 6.10 -18.95 5.22 -19.48 Q -0.20 -20.35 -5.63 -19.48 C -6.50 -18.95 -6.94 -17.90 -7.03 -16.33 Z"/>
<path fill="none" stroke-width="1" d="M -2.48 -12.30 Q -0.29 -10.55 1.90 -12.30"/>
<circle cx="-3.44" cy="-16.50" r="0.700" fill="#3e4e58" stroke="none"/><circle cx="2.69" cy="-16.50" r="0.700" fill="#3e4e58" stroke="none"/>
</g>
<g transform="translate(496.800,694.700)" fill="none" stroke="#415a63" stroke-width="1.350" stroke-linecap="round" stroke-linejoin="round">
<path d="M0.63,-20.26 Q-0.91,-23.16 -4.18,-22.89 Q-7.53,-24.47 -10.31,-22.01 Q-12.55,-20.98 -12.49,-18.51 Q-15.55,-18.64 -16.87,-15.89 Q-19.18,-13.33 -17.74,-10.20 Q-20.72,-9.02 -20.80,-5.83 Q-22.61,-2.62 -20.37,0.30 Q-22.47,2.05 -21.68,4.67 Q-22.61,8.46 -19.49,10.80 Q-18.90,13.70 -15.99,14.30 Q-16.34,17.20 -13.81,18.67 Q-12.05,21.71 -8.56,21.29 Q-7.09,23.83 -4.18,23.48 Q-1.05,23.98 0.63,21.29"/>
<path d="M0.63,-20.26 Q2.17,-23.16 5.44,-22.89 Q8.79,-24.47 11.57,-22.01 Q13.81,-20.98 13.75,-18.51 Q16.81,-18.64 18.13,-15.89 Q20.44,-13.33 19.00,-10.20 Q21.98,-9.02 22.06,-5.83 Q23.87,-2.62 21.63,0.30 Q23.73,2.05 22.94,4.67 Q23.87,8.46 20.75,10.80 Q20.16,13.70 17.25,14.30 Q17.60,17.20 15.07,18.67 Q13.31,21.71 9.82,21.29 Q8.35,23.83 5.44,23.48 Q2.31,23.98 0.63,21.29"/>
<path d="M 0.63 -20.70 L 0.63 21.99"/>
<path d="M -8.56 -14.14 Q -12.49 -12.39 -10.48 -8.45 M -15.12 -4.51 Q -12.23 -7.40 -9.26 -4.51 M -9.26 -1.01 Q -12.93 6.42 -5.06 13.25 M -15.12 6.42 L -5.49 7.30"/>
<path d="M 10.52 -1.01 Q 14.19 6.42 6.32 13.25 M 16.38 6.42 L 6.75 7.30 M 9.38 2.05 Q 5.62 7.30 12.44 11.67 M 7.19 -14.14 Q 8.94 -14.75 9.82 -13.70"/>
<polyline stroke="#e2474d" stroke-width="1.200" stroke-linejoin="miter" points="-6.37,-8.01 -4.62,-7.14 -1.12,-3.64 0.19,-4.95 2.82,-14.58 5.00,-8.45 7.19,-3.64 10.69,-15.89 13.32,-8.45 14.63,-5.39 16.38,-12.39 19.44,-2.76 22.50,-12.39 25.56,-3.64 28.63,-10.64 31.25,-5.83"/>
<path stroke="#e2474d" stroke-width="1.300" d="M -4.36 -1.63 L -3.74 -0.14 M 3.87 -2.15 L 3.52 0.12"/>
</g>
</svg></body></html>
